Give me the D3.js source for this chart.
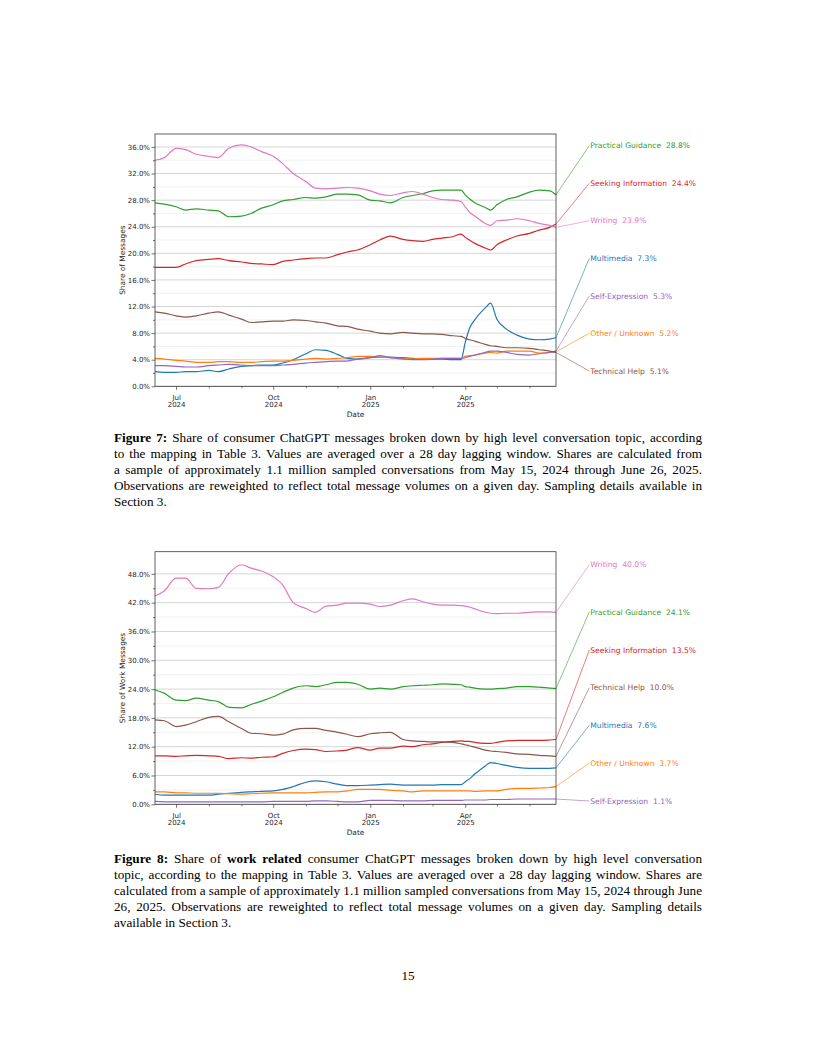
<!DOCTYPE html>
<html><head><meta charset="utf-8">
<script src="https://cdn.jsdelivr.net/npm/d3@7"></script>
<style>
html,body{margin:0;padding:0;background:#fff;}
svg{display:block;}
</style></head><body>
<svg id="page" width="816" height="1056"></svg>
<script>
// ---------- DATA ----------
const dates = ["2024-06-11","2024-06-20","2024-07-01","2024-07-10","2024-07-20","2024-08-01","2024-08-10","2024-08-20","2024-09-01","2024-09-10","2024-09-20","2024-10-01","2024-10-10","2024-10-20","2024-11-01","2024-11-10","2024-11-20","2024-12-01","2024-12-10","2024-12-20","2025-01-01","2025-01-10","2025-01-20","2025-02-01","2025-02-10","2025-02-20","2025-03-01","2025-03-10","2025-03-20","2025-03-28","2025-04-01","2025-04-05","2025-04-10","2025-04-20","2025-04-25","2025-05-01","2025-05-10","2025-05-20","2025-06-01","2025-06-10","2025-06-20","2025-06-26"];

// topics in plotting (alphabetical / colour-cycle) order
const topics = ["Multimedia","Other / Unknown","Practical Guidance","Seeking Information","Self-Expression","Technical Help","Writing"];
const topicColors = ["#1f77b4","#ff7f0e","#2ca02c","#d62728","#9467bd","#8c564b","#e377c2"];

// Figure 7: share of all messages (%)
const f7Multimedia = [2.2,2.1,2.1,2.2,2.2,2.4,2.2,2.6,3.0,3.1,3.2,3.2,3.5,4.0,4.9,5.5,5.4,4.8,4.2,4.1,4.3,4.4,4.4,4.3,4.2,4.1,4.1,4.1,4.0,4.0,6.6,8.7,10.0,11.8,12.5,10.1,8.6,7.7,7.1,7.0,7.1,7.3];
const f7Other = [4.2,4.1,3.9,3.8,3.6,3.6,3.7,3.7,3.6,3.6,3.7,3.8,3.8,3.9,4.1,4.2,4.1,4.2,4.3,4.5,4.5,4.4,4.3,4.2,4.1,4.2,4.2,4.2,4.2,4.2,4.5,4.6,4.7,5.0,5.1,5.0,5.3,5.3,5.3,5.0,5.1,5.2];
const f7Practical = [27.6,27.4,27.0,26.5,26.7,26.5,26.4,25.5,25.6,26.0,26.8,27.3,27.9,28.1,28.4,28.3,28.5,28.9,28.9,28.8,28.0,27.9,27.6,28.4,28.7,29.0,29.4,29.5,29.5,29.5,28.8,28.2,27.6,26.9,26.5,27.3,28.1,28.5,29.2,29.5,29.4,28.8];
const f7Seeking = [17.9,17.9,17.9,18.4,18.9,19.1,19.2,18.9,18.7,18.5,18.4,18.3,18.8,19.0,19.2,19.3,19.3,19.8,20.2,20.5,21.3,22.0,22.6,22.1,21.9,21.8,22.1,22.3,22.5,22.9,22.4,22.0,21.5,20.8,20.5,21.3,22.0,22.6,23.0,23.5,23.9,24.4];
const f7SelfExpr = [3.1,3.1,3.0,2.9,2.9,3.1,3.2,3.3,3.2,3.1,3.1,3.1,3.2,3.3,3.5,3.6,3.7,3.8,3.8,4.1,4.3,4.6,4.3,4.1,4.0,4.0,4.1,4.2,4.2,4.2,4.3,4.5,4.7,5.1,5.3,5.3,5.1,4.8,4.7,4.9,5.1,5.3];
const f7Technical = [11.2,11.0,10.6,10.4,10.6,11.0,11.2,10.7,10.1,9.6,9.7,9.8,9.8,10.0,9.9,9.7,9.5,9.1,9.0,8.6,8.3,8.0,7.9,8.1,8.0,7.9,7.9,7.8,7.6,7.5,7.2,7.0,6.8,6.3,6.1,6.0,5.8,5.8,5.7,5.5,5.3,5.1];
const f7Writing = [34.0,34.4,35.8,35.6,34.9,34.6,34.4,35.8,36.3,36.0,35.3,34.6,33.5,32.0,30.8,29.8,29.7,29.8,29.9,29.8,29.4,28.9,28.7,29.1,29.3,28.9,28.4,28.1,28.0,27.8,27.0,26.2,25.6,24.5,24.2,24.9,25.0,25.2,24.9,24.5,24.2,23.9];

// Figure 8: share of work-related messages (%)
const f8Multimedia = [2.1,1.9,1.9,1.9,1.9,1.9,2.1,2.3,2.5,2.6,2.7,2.8,3.1,3.7,4.6,4.9,4.7,4.2,3.9,3.9,4.0,4.1,4.2,4.0,4.0,4.0,4.0,4.1,4.1,4.1,4.7,5.3,6.3,8.0,8.7,8.5,8.1,7.7,7.5,7.5,7.5,7.6];
const f8Other = [2.6,2.6,2.4,2.4,2.3,2.3,2.3,2.2,2.1,2.2,2.3,2.4,2.4,2.4,2.4,2.5,2.6,2.6,2.8,3.1,3.1,3.1,2.9,2.8,2.6,2.8,2.8,2.8,2.8,2.8,2.8,2.8,2.7,2.8,2.8,2.8,3.1,3.3,3.3,3.4,3.5,3.7];
const f8Practical = [23.8,23.1,21.7,21.6,22.1,21.7,21.4,20.2,20.1,20.8,21.5,22.4,23.3,24.2,24.7,24.5,24.9,25.4,25.4,25.0,24.0,24.2,24.0,24.5,24.7,24.8,24.9,25.1,25.0,24.9,24.5,24.4,24.2,24.0,24.0,24.1,24.2,24.5,24.5,24.4,24.2,24.1];
const f8Seeking = [10.1,10.1,10.0,10.1,10.2,10.1,10.0,9.5,9.7,9.6,9.8,9.9,10.6,11.2,11.5,11.4,11.0,11.1,11.3,11.8,11.3,11.7,11.7,12.1,12.0,12.4,12.6,12.9,13.1,13.2,13.1,13.1,12.9,12.7,12.7,12.9,13.2,13.3,13.3,13.3,13.4,13.5];
const f8SelfExpr = [0.6,0.5,0.5,0.5,0.5,0.5,0.5,0.5,0.5,0.5,0.5,0.6,0.6,0.6,0.6,0.7,0.7,0.6,0.5,0.5,0.8,0.8,0.8,0.7,0.7,0.7,0.8,0.8,0.8,0.8,0.9,0.9,0.9,0.9,1.0,1.0,1.0,1.1,1.1,1.1,1.1,1.1];
const f8Technical = [17.6,17.4,16.2,16.5,17.2,18.1,18.3,17.2,15.8,14.8,14.7,14.4,14.6,15.5,15.8,15.8,15.4,15.0,14.6,14.1,14.7,14.9,15.0,13.5,13.2,13.1,13.0,13.0,12.9,12.6,12.4,12.2,11.9,11.3,11.1,11.0,10.8,10.5,10.4,10.2,10.1,10.0];
const f8Writing = [43.4,44.5,47.1,47.1,45.0,44.9,45.2,48.1,49.9,49.2,48.6,47.4,45.7,42.0,40.8,40.0,41.3,41.5,41.9,41.9,41.7,41.2,41.5,42.4,42.8,42.2,41.7,41.5,41.5,41.4,41.3,41.1,40.7,40.0,39.8,39.7,39.8,39.8,40.0,40.1,40.1,40.0];

const f7TickValues = [0,4,8,12,16,20,24,28,32,36];
const f7MinorValues = [2,6,10,14,18,22,26,30,34];
const f8TickValues = [0,6,12,18,24,30,36,42,48];
const f8MinorValues = [3,9,15,21,27,33,39,45];

const caption7 = [
  [["Figure 7:",true],[" Share of consumer ChatGPT messages broken down by high level conversation topic, according",false]],
  [["to the mapping in Table 3.  Values are averaged over a 28 day lagging window.  Shares are calculated from",false]],
  [["a sample of approximately 1.1 million sampled conversations from May 15, 2024 through June 26, 2025.",false]],
  [["Observations are reweighted to reflect total message volumes on a given day.  Sampling details available in",false]],
  [["Section 3.",false]]
];
const caption8 = [
  [["Figure 8:",true],[" Share of ",false],["work related",true],[" consumer ChatGPT messages broken down by high level conversation",false]],
  [["topic, according to the mapping in Table 3.  Values are averaged over a 28 day lagging window.  Shares are",false]],
  [["calculated from a sample of approximately 1.1 million sampled conversations from May 15, 2024 through June",false]],
  [["26, 2025.  Observations are reweighted to reflect total message volumes on a given day.  Sampling details",false]],
  [["available in Section 3.",false]]
];
const pageNumber = "15";

// ---------- LAYOUT ----------
const svg = d3.select("#page");
const parse = d3.timeParse("%Y-%m-%d");
const dateObjs = dates.map(parse);
const TICK_FONT = "DejaVu Sans, sans-serif";

function drawChart(cfg) {
  const {left, right, top, bottom, yMax, ticks, minor, yLabel, series, labelY} = cfg;
  const g = svg.append("g");
  const x = d3.scaleTime().domain(d3.extent(dateObjs)).range([left, right]);
  const y = d3.scaleLinear().domain([0, yMax]).range([bottom, top]);

  // gridlines
  g.append("g").selectAll("line").data(minor).join("line")
    .attr("x1", left).attr("x2", right)
    .attr("y1", d => y(d)).attr("y2", d => y(d))
    .attr("stroke", "#efefef").attr("stroke-width", 0.9);
  g.append("g").selectAll("line").data(ticks).join("line")
    .attr("x1", left).attr("x2", right)
    .attr("y1", d => y(d)).attr("y2", d => y(d))
    .attr("stroke", "#d6d6d6").attr("stroke-width", 1);

  // lines
  const line = d3.line().x((d, i) => x(dateObjs[i])).y(d => y(d)).curve(d3.curveMonotoneX);
  series.forEach(s => {
    g.append("path").attr("d", line(s.values)).attr("fill", "none")
      .attr("stroke", s.color).attr("stroke-width", 1.2).attr("stroke-linejoin", "round");
  });

  // frame
  g.append("rect").attr("x", left).attr("y", top).attr("width", right - left).attr("height", bottom - top)
    .attr("fill", "none").attr("stroke", "#3a3a3a").attr("stroke-width", 0.8);

  // y axis
  const yAx = g.append("g").attr("transform", `translate(${left},0)`)
    .call(d3.axisLeft(y).tickValues(ticks).tickSize(3.5).tickPadding(1.5).tickFormat(d => d.toFixed(1) + "%"));
  yAx.select(".domain").remove();
  const yMin = g.append("g").attr("transform", `translate(${left},0)`)
    .call(d3.axisLeft(y).tickValues(minor).tickSize(2).tickFormat(""));
  yMin.select(".domain").remove();

  // x axis
  const majorMonths = x.ticks(d3.timeMonth.every(3));
  const minorMonths = x.ticks(d3.timeMonth.every(1)).filter(d => d.getMonth() % 3 !== 0);
  const xAx = g.append("g").attr("transform", `translate(0,${bottom})`)
    .call(d3.axisBottom(x).tickValues(majorMonths).tickSize(3.5).tickFormat(d3.timeFormat("%b")));
  xAx.select(".domain").remove();
  xAx.selectAll(".tick text").each(function(d) {
    const t = d3.select(this);
    t.text(null).attr("y", null).attr("dy", null);
    t.append("tspan").attr("x", 0).attr("y", 14.2).text(d3.timeFormat("%b")(d));
    t.append("tspan").attr("x", 0).attr("y", 20.7).text(d3.timeFormat("%Y")(d));
  });
  const xMin = g.append("g").attr("transform", `translate(0,${bottom})`)
    .call(d3.axisBottom(x).tickValues(minorMonths).tickSize(2).tickFormat(""));
  xMin.select(".domain").remove();

  [yAx, yMin, xAx, xMin].forEach(a => {
    a.attr("font-family", TICK_FONT).attr("font-size", 7);
    a.selectAll(".tick line").attr("stroke", "#3a3a3a").attr("stroke-width", 0.7);
    a.selectAll(".tick text").attr("fill", "#262626");
  });

  // axis labels
  g.append("text").attr("x", (left + right) / 2).attr("y", bottom + 30.3)
    .attr("text-anchor", "middle").attr("font-family", TICK_FONT).attr("font-size", 7.4)
    .attr("fill", "#262626").text("Date");
  g.append("text").attr("transform", `translate(${left - 32.7},${(top + bottom) / 2}) rotate(-90)`)
    .attr("text-anchor", "middle").attr("dominant-baseline", "central")
    .attr("font-family", TICK_FONT).attr("font-size", 7.4).attr("fill", "#262626").text(yLabel);

  // end labels, ordered by final value
  const ordered = series.slice().sort((a, b) => b.values[b.values.length - 1] - a.values[a.values.length - 1]);
  ordered.forEach((s, i) => {
    const last = s.values[s.values.length - 1];
    const ly = labelY[i];
    g.append("line").attr("x1", right).attr("y1", y(last)).attr("x2", right + 33.3).attr("y2", ly)
      .attr("stroke", s.color).attr("stroke-width", 0.7).attr("stroke-opacity", 0.85);
    g.append("text").attr("x", right + 34.3).attr("y", ly).attr("dominant-baseline", "central")
      .attr("font-family", TICK_FONT).attr("font-size", 7.6).attr("fill", s.color)
      .style("white-space", "pre").text(`${s.name}  ${last.toFixed(1)}%`);
  });
}

function drawCaption(lines, x0, width, y0, lh) {
  const fam = "Liberation Serif, Times New Roman, serif";
  const fs = 13.2;
  const measure = svg.append("text").attr("font-family", fam).attr("font-size", fs).attr("x", -1000).attr("y", -1000);
  lines.forEach((segs, li) => {
    // tokens: groups of word-parts with no whitespace between them
    const tokens = [];
    let pendingSpace = true;
    segs.forEach(([t, b]) => {
      const re = /(\s+)|([^\s]+)/g;
      let m;
      while ((m = re.exec(t)) !== null) {
        if (m[1]) { pendingSpace = true; continue; }
        const part = {w: m[2], b};
        if (!pendingSpace && tokens.length) tokens[tokens.length - 1].parts.push(part);
        else tokens.push({parts: [part]});
        pendingSpace = false;
      }
    });
    tokens.forEach(tk => {
      tk.width = d3.sum(tk.parts, p => {
        measure.attr("font-weight", p.b ? "bold" : "normal").text(p.w);
        p.width = measure.node().getComputedTextLength();
        return p.width;
      });
    });
    const total = d3.sum(tokens, t => t.width);
    const last = li === lines.length - 1;
    measure.attr("font-weight", "normal").text("a b");
    const ab = measure.node().getComputedTextLength();
    measure.text("ab");
    const normalGap = ab - measure.node().getComputedTextLength();
    const gap = last ? normalGap : (width - total) / (tokens.length - 1);
    const txt = svg.append("text").attr("font-family", fam).attr("font-size", fs).attr("fill", "#000");
    let cx = x0;
    const yy = y0 + li * lh;
    tokens.forEach(tk => {
      tk.parts.forEach(p => {
        txt.append("tspan").attr("x", cx).attr("y", yy).attr("font-weight", p.b ? "bold" : "normal").text(p.w);
        cx += p.width;
      });
      cx += gap;
    });
  });
  measure.remove();
}

function build(valuesList) {
  return topics.map((name, i) => ({name, color: topicColors[i], values: valuesList[i]}));
}

drawChart({
  left: 155, right: 556, top: 134, bottom: 386.3, yMax: 37.95,
  ticks: f7TickValues, minor: f7MinorValues, yLabel: "Share of Messages",
  series: build([f7Multimedia, f7Other, f7Practical, f7Seeking, f7SelfExpr, f7Technical, f7Writing]),
  labelY: [145.7, 183.3, 220.7, 258.3, 296, 333.3, 371]
});
drawChart({
  left: 155, right: 556, top: 551.7, bottom: 804.3, yMax: 52.62,
  ticks: f8TickValues, minor: f8MinorValues, yLabel: "Share of Work Messages",
  series: build([f8Multimedia, f8Other, f8Practical, f8Seeking, f8SelfExpr, f8Technical, f8Writing]),
  labelY: [564.7, 612, 650, 687.7, 725.3, 763, 801]
});

drawCaption(caption7, 114, 588, 442, 16);
drawCaption(caption8, 114, 588, 863, 16);

svg.append("text").attr("x", 408).attr("y", 980).attr("text-anchor", "middle")
  .attr("font-family", "Liberation Serif, serif").attr("font-size", 13.2).text(pageNumber);
</script>
</body></html>
